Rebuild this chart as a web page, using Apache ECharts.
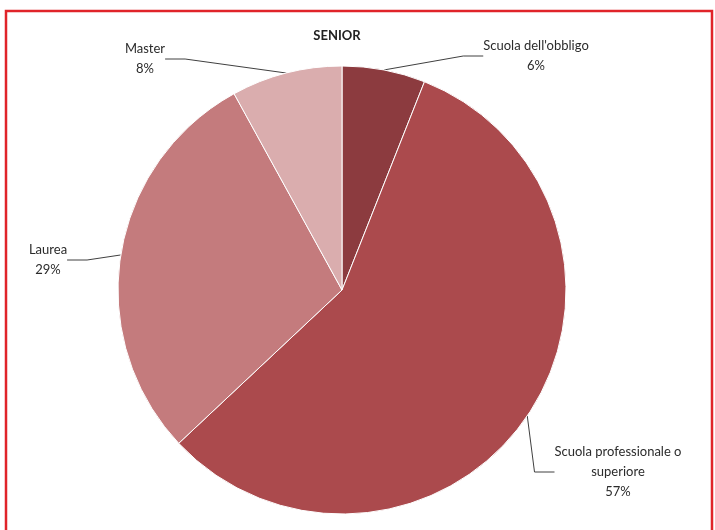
<!DOCTYPE html>
<html><head><meta charset="utf-8">
<script src="https://cdn.jsdelivr.net/npm/echarts@6/dist/echarts.min.js"></script>
<style>html,body{margin:0;padding:0;background:#fff}#c{width:715px;height:530px}</style>
</head><body><div id="c"></div>
<script>
const categories = ["Scuola dell'obbligo", "Scuola professionale o\nsuperiore", "Laurea", "Master"];
const values = [6, 57, 29, 8];
const colors = ['#8C3B3F', '#AB4A4D', '#C47B7D', '#DAADAE'];
const labelPos = [[536, 56], [618, 472], [48, 260], [145, 59]];

const chart = echarts.init(document.getElementById('c'));
chart.setOption({
  backgroundColor: '#fff',
  animation: false,
  title: { text: 'SENIOR', left: 332, top: 24, textAlign: 'center',
    textStyle: { fontFamily: 'Lato', fontSize: 13, fontWeight: 'bold', color: '#222' } },
  graphic: [{ type: 'rect', shape: { x: 6, y: 11, width: 706, height: 540 },
    style: { fill: 'none', stroke: '#E0242A', lineWidth: 2.5 }, silent: true }],
  series: [{
    type: 'pie',
    center: [342, 290],
    radius: 224,
    startAngle: 90,
    clockwise: true,
    data: categories.map((c, i) => ({ name: c, value: values[i], itemStyle: { color: colors[i] } })),
    itemStyle: { borderColor: '#fff', borderWidth: 1 },
    label: { show: true, formatter: p => p.name + '\n' + p.value + '%', fontFamily: 'Lato', fontSize: 13,
      color: '#2b2b2b', lineHeight: 20, align: 'center' },
    labelLine: { show: true, length: 20, length2: 20, lineStyle: { color: '#404040', width: 1 } },
    labelLayout: function (params) {
      const p = labelPos[params.dataIndex];
      return { x: p[0], y: p[1], align: 'center', verticalAlign: 'middle' };
    }
  }]
});
</script></body></html>
